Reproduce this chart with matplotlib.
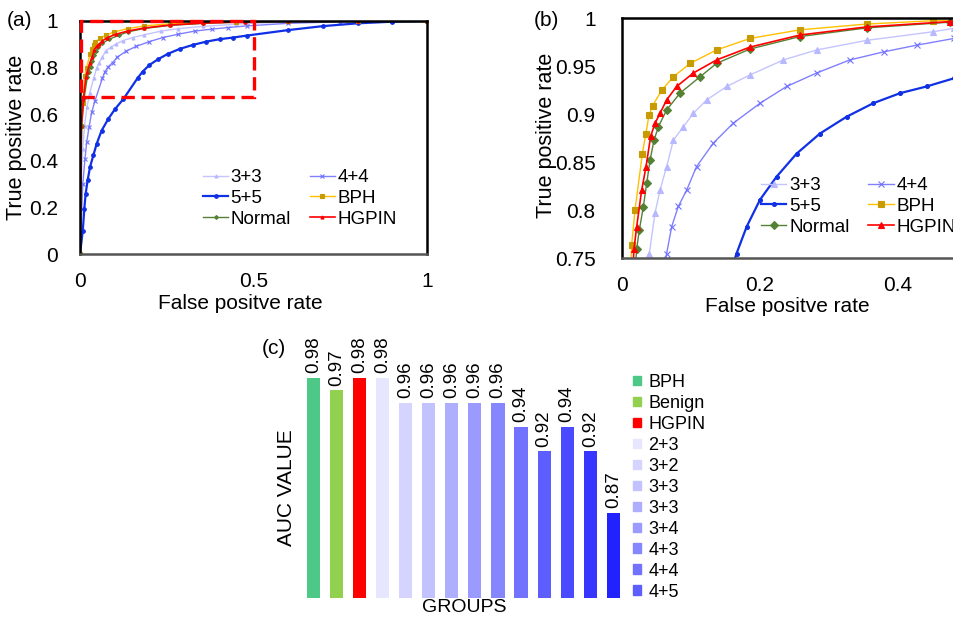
import matplotlib
matplotlib.use("Agg")
import matplotlib.pyplot as plt
from matplotlib.patches import Patch, Rectangle

plt.rcParams['font.family'] = ['Liberation Sans', 'DejaVu Sans']

# ---------------- ROC data ----------------
fpr_33 = [0, 0.003, 0.008, 0.013, 0.02, 0.028, 0.0396, 0.0478, 0.0551, 0.0647, 0.0744, 0.0889, 0.1034,
          0.1227, 0.1517, 0.1855, 0.2338, 0.282, 0.3546, 0.451, 0.481, 0.6, 0.75, 1.0]
tpr_33 = [0, 0.30, 0.45, 0.55, 0.63, 0.69, 0.755, 0.797, 0.821, 0.8455, 0.873, 0.887, 0.901,
          0.915, 0.929, 0.941, 0.9566, 0.967, 0.977, 0.986, 0.9896, 0.995, 0.999, 1.0]

fpr_44 = [0, 0.008, 0.0144, 0.0193, 0.026, 0.0337, 0.0432, 0.0647, 0.072, 0.0816, 0.0937, 0.108, 0.1324,
          0.161, 0.2, 0.2386, 0.282, 0.33, 0.379, 0.427, 0.481, 0.6, 0.75, 0.9, 1.0]
tpr_44 = [0, 0.30, 0.409, 0.48, 0.544, 0.608, 0.658, 0.755, 0.783, 0.804, 0.821, 0.8455, 0.870,
          0.8906, 0.9115, 0.929, 0.943, 0.9566, 0.965, 0.972, 0.979, 0.99, 0.997, 1.0, 1.0]

fpr_55 = [0, 0.008, 0.0125, 0.0163, 0.022, 0.0288, 0.0384, 0.048, 0.0624, 0.0816, 0.1009, 0.125,
          0.166, 0.1807, 0.2, 0.224, 0.253, 0.287, 0.3256, 0.364, 0.403, 0.4415, 0.481,
          0.6, 0.7, 0.8, 0.9, 1.0]
tpr_55 = [0, 0.10, 0.195, 0.259, 0.316, 0.373, 0.423, 0.473, 0.530, 0.580, 0.622, 0.665,
          0.755, 0.783, 0.811, 0.835, 0.859, 0.880, 0.8975, 0.9115, 0.922, 0.929, 0.9375,
          0.961, 0.978, 0.99, 0.997, 1.0]

fpr_bph = [0, 0.003, 0.008, 0.014, 0.0188, 0.0295, 0.0343, 0.0391, 0.0444, 0.0575, 0.0744, 0.0986,
           0.137, 0.1855, 0.258, 0.3546, 0.451, 0.6, 0.8, 1.0]
tpr_bph = [0, 0.55, 0.65, 0.764, 0.800, 0.859, 0.879, 0.899, 0.909, 0.925, 0.939, 0.953,
           0.967, 0.979, 0.988, 0.994, 0.9975, 0.999, 1.0, 1.0]

fpr_nor = [0, 0.005, 0.012, 0.0213, 0.0251, 0.0309, 0.0358, 0.0406, 0.0464, 0.0527, 0.0647, 0.084,
           0.113, 0.137, 0.1855, 0.258, 0.3546, 0.475, 0.6, 0.8, 1.0]
tpr_nor = [0, 0.55, 0.67, 0.760, 0.7795, 0.8037, 0.828, 0.852, 0.873, 0.887, 0.9045, 0.922,
           0.939, 0.953, 0.968, 0.981, 0.990, 0.996, 0.999, 1.0, 1.0]

fpr_hg = [0, 0.004, 0.0096, 0.0174, 0.0213, 0.0285, 0.0348, 0.0415, 0.0478, 0.0551, 0.0647, 0.0792,
          0.1034, 0.137, 0.1855, 0.258, 0.3546, 0.475, 0.6, 0.8, 1.0]
tpr_hg = [0, 0.55, 0.665, 0.760, 0.783, 0.821, 0.8455, 0.877, 0.8906, 0.901, 0.915, 0.929,
          0.943, 0.9566, 0.970, 0.9826, 0.991, 0.9965, 0.999, 1.0, 1.0]

roc_labels = ['3+3', '4+4', '5+5', 'BPH', 'Normal', 'HGPIN']

# ---------------- AUC bar data ----------------
auc_values = [0.98, 0.97, 0.98, 0.98, 0.96, 0.96, 0.96, 0.96, 0.96, 0.94, 0.92, 0.94, 0.92, 0.87]
legend_groups = ['BPH', 'Benign', 'HGPIN', '2+3', '3+2', '3+3', '3+3', '3+4', '4+3', '4+4', '4+5']
bar_colors = ['#4DC886', '#92D050', '#FF0000', '#E6E6FF', '#D4D4FF', '#C2C2FF', '#AEAEFF',
              '#9A9AFF', '#8686FF', '#7272FF', '#5E5EFF', '#4A4AFF', '#3636FF', '#2222FF']

W, H = 954, 618
fig = plt.figure(figsize=(W / 100, H / 100), dpi=100)


def px_ax(l, t, r, b):
    return fig.add_axes([l / W, 1 - b / H, (r - l) / W, (b - t) / H])


styles = [
    dict(color='#C4C4FF', marker='^', mfc='#B8B8FF', mec='#B8B8FF', lw=1.0),
    dict(color='#8080FF', marker='x', mfc='#7070FF', mec='#7070FF', lw=1.0),
    dict(color='#1030E6', marker='o', mfc='#1030E6', mec='#1030E6', lw=1.6),
    dict(color='#FFC000', marker='s', mfc='#C89B00', mec='#C89B00', lw=1.0),
    dict(color='#548235', marker='D', mfc='#548235', mec='#548235', lw=1.0),
    dict(color='#FF0000', marker='^', mfc='#FF0000', mec='#FF0000', lw=1.2),
]
series = [(fpr_33, tpr_33), (fpr_44, tpr_44), (fpr_55, tpr_55),
          (fpr_bph, tpr_bph), (fpr_nor, tpr_nor), (fpr_hg, tpr_hg)]


def draw_roc(ax, sizes, xlim, ylim, xticks, yticks, xtl, ytl, xpad, ypad):
    lines = []
    for (x, y), st, lab, ms in zip(series, styles, roc_labels, sizes):
        ln, = ax.plot(x, y, label=lab, ms=ms, mew=0.8, **st)
        lines.append(ln)
    ax.set_xlim(*xlim)
    ax.set_ylim(*ylim)
    ax.set_xticks(xticks)
    ax.set_xticklabels(xtl)
    ax.set_yticks(yticks)
    ax.set_yticklabels(ytl)
    ax.tick_params(length=0, labelsize=15)
    ax.tick_params(axis='x', pad=xpad)
    ax.tick_params(axis='y', pad=ypad)
    for s in ['left', 'top', 'right']:
        ax.spines[s].set_color('black')
        ax.spines[s].set_linewidth(1.8)
    ax.spines['bottom'].set_color('#555555')
    ax.spines['bottom'].set_linewidth(1.8)
    return lines


order = [0, 2, 4, 1, 3, 5]

# ---------------- Panel (a) ----------------
axa = px_ax(80, 21, 427, 254)
la = draw_roc(axa, [2.2, 2.2, 2.6, 2.4, 2.0, 2.2], (0, 1), (0, 1), [0, 0.5, 1],
              [0, 0.2, 0.4, 0.6, 0.8, 1],
              ['0', '0.5', '1'], ['0', '0.2', '0.4', '0.6', '0.8', '1'], 13, 16)
rect = Rectangle((0.004, 0.675), 0.496, 0.325, fill=False, ec='#FF0000', lw=2.4,
                 ls=(0, (4, 2)), zorder=10, clip_on=False)
axa.add_patch(rect)
axa.legend([la[i] for i in order], [roc_labels[i] for i in order], ncol=2, frameon=False,
           fontsize=13.5, loc='upper left', bbox_to_anchor=(203 / W, 1 - 169 / H),
           bbox_transform=fig.transFigure, borderpad=0, borderaxespad=0,
           handlelength=1.35, handletextpad=0.12, columnspacing=1.0, labelspacing=0.2)
fig.text(17 / W, 1 - 137 / H, 'True positive rate', rotation=90, ha='center', va='center', fontsize=15.5)
fig.text(240 / W, 1 - 304 / H, 'False positve rate', ha='center', va='center', fontsize=15)
fig.text(20 / W, 1 - 20 / H, '(a)', ha='center', va='center', fontsize=15)

# ---------------- Panel (b) ----------------
axb = px_ax(622, 18.3, 622 + 0.5 * 690, 258.3)
lb = draw_roc(axb, [4.0, 4.0, 2.8, 4.5, 3.8, 4.0], (0, 0.5), (0.75, 1), [0, 0.2, 0.4],
              [0.75, 0.8, 0.85, 0.9, 0.95, 1],
              ['0', '0.2', '0.4'], ['0.75', '0.8', '0.85', '0.9', '0.95', '1'], 13, 19)
axb.legend([lb[i] for i in order], [roc_labels[i] for i in order], ncol=2, frameon=False,
           fontsize=13.5, loc='upper left', bbox_to_anchor=(761 / W, 1 - 177 / H),
           bbox_transform=fig.transFigure, borderpad=0, borderaxespad=0,
           handlelength=1.35, handletextpad=0.15, columnspacing=1.0, labelspacing=0.2)
fig.text(547 / W, 1 - 135 / H, 'True positive rate', rotation=90, ha='center', va='center', fontsize=15.5)
fig.text(787 / W, 1 - 307 / H, 'False positve rate', ha='center', va='center', fontsize=15)
fig.text(546 / W, 1 - 21 / H, '(b)', ha='center', va='center', fontsize=15)

# ---------------- Panel (c) ----------------
axc = px_ax(301.8, 353.8, 301.8 + 14 * 23.08, 598)
xs = list(range(len(auc_values)))
axc.bar(xs, [v - 0.80 for v in auc_values], bottom=0.80, width=0.57, color=bar_colors)
axc.set_xlim(-0.5, len(auc_values) - 0.5)
axc.set_ylim(0.80, 1.0)
axc.axis('off')
for x, v in zip(xs, auc_values):
    axc.annotate(f'{v:.2f}', (x, v), xytext=(0, 3.5), textcoords='offset points',
                 rotation=90, ha='center', va='bottom', fontsize=13.5)
handles = [Patch(color=c) for c in bar_colors[:len(legend_groups)]]
axc.legend(handles, legend_groups, frameon=False, fontsize=13, loc='upper left',
           bbox_to_anchor=(633 / W, 1 - 374 / H), bbox_transform=fig.transFigure,
           borderpad=0, borderaxespad=0, handlelength=0.45, handleheight=0.45,
           handletextpad=0.4, labelspacing=0.22)
fig.text(287 / W, 1 - 488 / H, 'AUC VALUE', rotation=90, ha='center', va='center', fontsize=15)
fig.text(464 / W, 1 - 607 / H, 'GROUPS', ha='center', va='center', fontsize=14)
fig.text(274 / W, 1 - 348 / H, '(c)', ha='center', va='center', fontsize=15)

fig.savefig('out.png', dpi=100)
